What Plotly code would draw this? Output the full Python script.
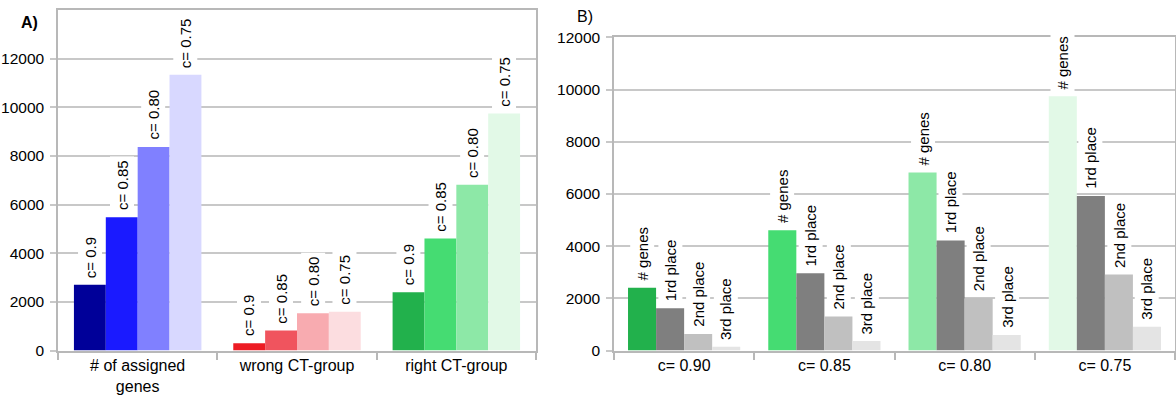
import plotly.graph_objects as go

# Panel A: gene assignment counts per similarity cutoff
groups_a = ["# of assigned<br>genes", "wrong CT-group", "right CT-group"]
cutoff_labels = ["c= 0.9", "c= 0.85", "c= 0.80", "c= 0.75"]
assigned_c090 = [2700, 300, 2400]
assigned_c085 = [5480, 820, 4610]
assigned_c080 = [8370, 1530, 6820]
assigned_c075 = [11340, 1590, 9740]

# Panel B: rank of the right CT-group per cutoff
groups_b = ["c= 0.90", "c= 0.85", "c= 0.80", "c= 0.75"]
rank_labels = ["# genes", "1rd place", "2nd place", "3rd place"]
n_genes = [2400, 4610, 6820, 9740]
first_place = [1620, 2960, 4210, 5920]
second_place = [630, 1300, 2010, 2910]
third_place = [140, 360, 590, 910]

y_ticks_a = [0, 2000, 4000, 6000, 8000, 10000, 12000]
y_ticks_b = [0, 2000, 4000, 6000, 8000, 10000, 12000]

# colours: one shade per cutoff, one hue per group
colors_a = [
    ["#000099", "#ed1c24", "#22b14c"],
    ["#1a1aff", "#f0545e", "#45dc72"],
    ["#8080ff", "#f8abb0", "#8de8a7"],
    ["#d8d8ff", "#fcdde0", "#e2f9e7"],
]
genes_colors_b = ["#22b14c", "#45dc72", "#8de8a7", "#e2f9e7"]
rank_colors_b = ["#7f7f7f", "#c0c0c0", "#e4e4e4"]

FONT = "Liberation Sans, Arial, sans-serif"
GRID = "#c8c8c8"
AXIS = "#b8b8b8"
BARGAP = 0.2
W, H = 1176, 396

fig = go.Figure()

series_a = [assigned_c090, assigned_c085, assigned_c080, assigned_c075]
for lab, vals, cols in zip(cutoff_labels, series_a, colors_a):
    fig.add_trace(go.Bar(x=groups_a, y=vals, name=lab, marker=dict(color=cols, line=dict(width=0)),
                         xaxis="x", yaxis="y", showlegend=False))

series_b = [n_genes, first_place, second_place, third_place]
colors_b = [genes_colors_b] + [[c] * len(groups_b) for c in rank_colors_b]
for lab, vals, cols in zip(rank_labels, series_b, colors_b):
    fig.add_trace(go.Bar(x=groups_b, y=vals, name=lab, marker=dict(color=cols, line=dict(width=0)),
                         xaxis="x2", yaxis="y2", showlegend=False))

annotations = []


def bar_labels(series, labels, xref, yref):
    """Rotated label above every bar, offset to the bar's slot in its group."""
    n = len(series)
    width = (1 - BARGAP) / n
    for k, (lab, vals) in enumerate(zip(labels, series)):
        offset = -(1 - BARGAP) / 2 + width * (k + 0.5)
        for i, v in enumerate(vals):
            annotations.append(dict(
                x=i + offset, y=v, xref=xref, yref=yref, text=lab, textangle=-90,
                showarrow=False, xanchor="center", yanchor="bottom", yshift=3,
                bgcolor="white", borderpad=3,
                font=dict(family=FONT, size=15, color="#000000"),
            ))


bar_labels(series_a, cutoff_labels, "x", "y")
bar_labels(series_b, rank_labels, "x2", "y2")

# panel letters (positions in pixels)
annotations.append(dict(x=19 / W, y=(H - 23) / H, xref="paper", yref="paper", text="<b>A)</b>",
                        showarrow=False, xanchor="left", yanchor="middle",
                        font=dict(family=FONT, size=16, color="#000")))
annotations.append(dict(x=575 / W, y=(H - 16) / H, xref="paper", yref="paper", text="B)",
                        showarrow=False, xanchor="left", yanchor="middle",
                        font=dict(family=FONT, size=16, color="#000")))

xaxis_common = dict(type="category", showline=True, linecolor=AXIS, linewidth=1.5, mirror=True,
                    ticks="outside", tickson="boundaries", ticklen=8, tickcolor=AXIS, tickwidth=1.5,
                    showgrid=False, automargin=False,
                    tickfont=dict(family=FONT, size=16, color="#000"), fixedrange=True)
yaxis_common = dict(showline=True, linecolor=AXIS, linewidth=1.5, mirror=True, showgrid=True,
                    gridcolor=GRID, gridwidth=1.5, ticks="outside", ticklen=6, tickcolor=GRID,
                    tickwidth=1.5, ticklabelstandoff=3, zeroline=False, tickformat="d",
                    automargin=False,
                    tickfont=dict(family=FONT, size=15.5, color="#000"), fixedrange=True)

fig.update_layout(
    width=W, height=H,
    margin=dict(l=0, r=0, t=0, b=0),
    paper_bgcolor="white", plot_bgcolor="white",
    barmode="group", bargap=BARGAP, bargroupgap=0,
    xaxis=dict(domain=[58 / W, 536 / W], anchor="y", **xaxis_common),
    yaxis=dict(domain=[(H - 350.5) / H, (H - 10) / H], anchor="x", range=[0, 14000],
               tickvals=y_ticks_a, **yaxis_common),
    xaxis2=dict(domain=[614 / W, 1175 / W], anchor="y2", **xaxis_common),
    yaxis2=dict(domain=[(H - 350.5) / H, (H - 37.3) / H], anchor="x2", range=[0, 12000],
                tickvals=y_ticks_b, **yaxis_common),
    annotations=annotations,
)

fig.write_html("out.html")
